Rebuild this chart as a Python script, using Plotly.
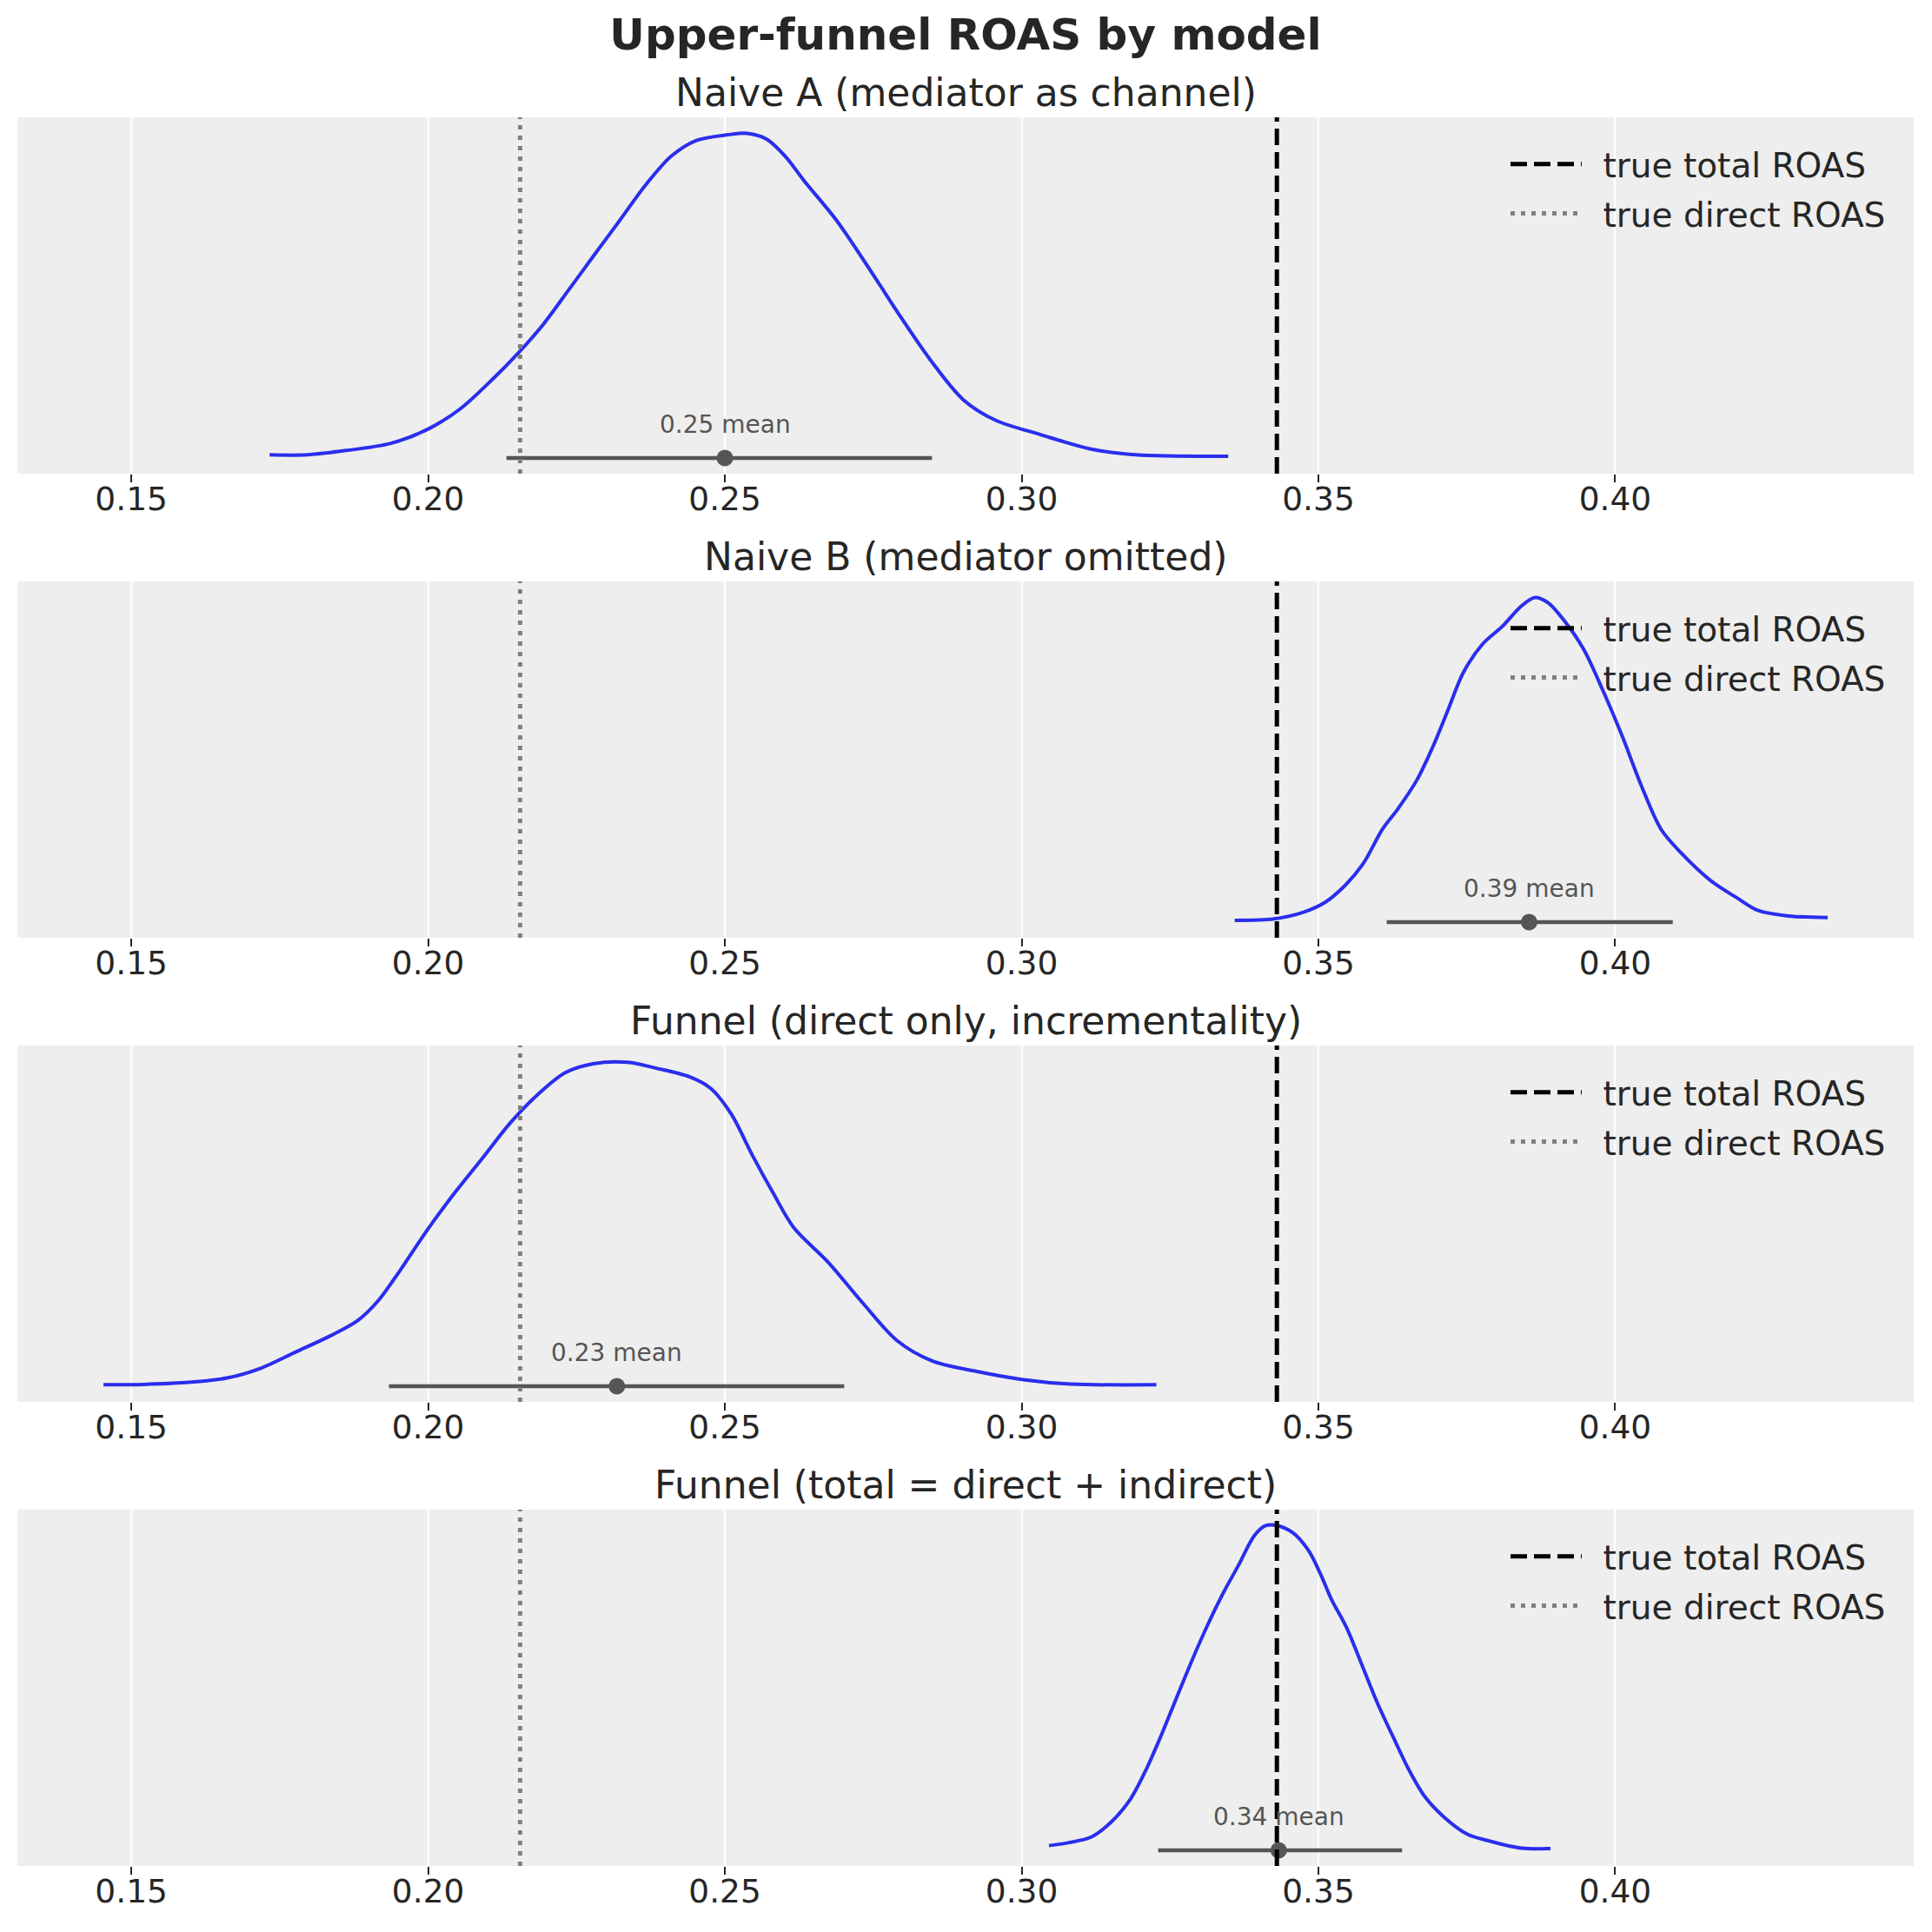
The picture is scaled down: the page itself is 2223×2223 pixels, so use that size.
import plotly.graph_objects as go

# ---------------- data ----------------
panel_titles = [
    "Naive A (mediator as channel)",
    "Naive B (mediator omitted)",
    "Funnel (direct only, incrementality)",
    "Funnel (total = direct + indirect)",
]
true_total_roas = 0.343
true_direct_roas = 0.2155

means = [0.2500, 0.3855, 0.2318, 0.3433]
hdi_low = [0.2132, 0.3615, 0.1934, 0.3230]
hdi_high = [0.2849, 0.4097, 0.2701, 0.3641]

kde_x_naive_a = [0.1733, 0.1797, 0.1862, 0.1937, 0.2001, 0.2055, 0.2108, 0.2151, 0.2194, 0.2237,
                 0.2280, 0.2323, 0.2366, 0.2409, 0.2452, 0.2505, 0.2538, 0.2570, 0.2602, 0.2634,
                 0.2688, 0.2741, 0.2795, 0.2849, 0.2902, 0.2956, 0.3031, 0.3117, 0.3192, 0.3348]
kde_y_naive_a = [0.053, 0.053, 0.065, 0.085, 0.126, 0.183, 0.264, 0.337, 0.419, 0.516,
                 0.614, 0.711, 0.809, 0.890, 0.935, 0.951, 0.955, 0.939, 0.890, 0.821,
                 0.711, 0.581, 0.443, 0.313, 0.207, 0.150, 0.110, 0.069, 0.053, 0.049]

kde_x_naive_b = [0.3359, 0.3425, 0.3477, 0.3510, 0.3542, 0.3575, 0.3608, 0.3634, 0.3666, 0.3692,
                 0.3718, 0.3744, 0.3777, 0.3810, 0.3842, 0.3865, 0.3888, 0.3914, 0.3947, 0.3979,
                 0.4012, 0.4044, 0.4077, 0.4110, 0.4162, 0.4207, 0.4240, 0.4292, 0.4330, 0.4358]
kde_y_naive_b = [0.049, 0.053, 0.073, 0.098, 0.142, 0.207, 0.305, 0.362, 0.443, 0.533,
                 0.638, 0.744, 0.825, 0.874, 0.931, 0.955, 0.939, 0.890, 0.809, 0.695,
                 0.565, 0.427, 0.305, 0.240, 0.159, 0.110, 0.077, 0.061, 0.058, 0.057]

kde_x_funnel_direct = [0.1453, 0.1521, 0.1591, 0.1661, 0.1719, 0.1777, 0.1835, 0.1882, 0.1917, 0.1952,
                       0.1998, 0.2045, 0.2092, 0.2138, 0.2185, 0.2231, 0.2278, 0.2336, 0.2383, 0.2441,
                       0.2476, 0.2511, 0.2546, 0.2581, 0.2616, 0.2674, 0.2732, 0.2790, 0.2849, 0.2919,
                       0.3000, 0.3082, 0.3227]
kde_y_funnel_direct = [0.048, 0.049, 0.054, 0.067, 0.095, 0.140, 0.185, 0.229, 0.286, 0.367,
                       0.481, 0.587, 0.685, 0.782, 0.863, 0.924, 0.949, 0.953, 0.937, 0.912,
                       0.880, 0.807, 0.693, 0.587, 0.489, 0.392, 0.278, 0.172, 0.115, 0.087,
                       0.063, 0.050, 0.048]

kde_x_funnel_total = [0.3046, 0.3078, 0.3117, 0.3150, 0.3183, 0.3209, 0.3235, 0.3261, 0.3287, 0.3313,
                      0.3339, 0.3366, 0.3392, 0.3411, 0.3431, 0.3457, 0.3483, 0.3503, 0.3522, 0.3548,
                      0.3574, 0.3600, 0.3627, 0.3653, 0.3679, 0.3711, 0.3751, 0.3790, 0.3842, 0.3891]
kde_y_funnel_total = [0.057, 0.065, 0.081, 0.122, 0.187, 0.268, 0.366, 0.472, 0.577, 0.675,
                      0.764, 0.846, 0.927, 0.955, 0.955, 0.935, 0.886, 0.821, 0.748, 0.667,
                      0.561, 0.455, 0.358, 0.268, 0.195, 0.138, 0.089, 0.069, 0.050, 0.049]

kde_x = [kde_x_naive_a, kde_x_naive_b, kde_x_funnel_direct, kde_x_funnel_total]
kde_y = [kde_y_naive_a, kde_y_naive_b, kde_y_funnel_direct, kde_y_funnel_total]

tick_values = [0.15, 0.20, 0.25, 0.30, 0.35, 0.40]
tick_labels = ["0.15", "0.20", "0.25", "0.30", "0.35", "0.40"]
x_range = [0.1308, 0.4503]

# ---------------- layout constants ----------------
PAGE = 2223
OFF = 8                      # default page body margin
W = PAGE - 2 * OFF           # figure size so the page does not overflow


def px_x(p):
    return (p - OFF) / W


def px_y(p):
    return 1 - (p - OFF) / W


PLOT_LEFT, PLOT_RIGHT = 20, 2202
PANEL_TOPS = [135, 669, 1203, 1737]
PANEL_H = 410
HDI_Y = 0.044
LABEL_Y = 0.138
FONT = "DejaVu Sans"
TXT = "#262626"
GREY = "#555555"
KDE_COLOR = "#2a2eec"
GAP = "\u2002"

fig = go.Figure()
layout = dict(
    width=W, height=W,
    margin=dict(l=0, r=0, t=0, b=0),
    paper_bgcolor="white",
    plot_bgcolor="#eeeeee",
    font=dict(family=FONT, color=TXT),
    title=dict(text="Upper-funnel ROAS by model", x=px_x((PLOT_LEFT + PLOT_RIGHT) / 2),
               xanchor="center", y=px_y(39), yanchor="middle", yref="container",
               font=dict(family=FONT, size=50, color=TXT, weight="bold")),
    annotations=[],
)

for i in range(4):
    n = "" if i == 0 else str(i + 1)
    xa, ya = "x" + n, "y" + n
    leg = "legend" + n
    top = PANEL_TOPS[i]

    layout["xaxis" + n] = dict(
        domain=[px_x(PLOT_LEFT), px_x(PLOT_RIGHT)], anchor=ya, range=x_range,
        tickvals=tick_values, ticktext=tick_labels, showgrid=True, gridcolor="white",
        gridwidth=2, zeroline=False, showline=False, ticks="outside", ticklen=9,
        tickwidth=2, tickcolor=TXT, ticklabelstandoff=-13,
        tickfont=dict(family=FONT, size=37.5, color=TXT),
    )
    layout["yaxis" + n] = dict(
        domain=[px_y(top + PANEL_H), px_y(top)], anchor=xa, range=[0, 1], showgrid=False,
        zeroline=False, showticklabels=False, ticks="", showline=False,
    )
    layout[leg] = dict(
        x=px_x(1733), xanchor="left", y=px_y(top + 22), yanchor="top",
        bgcolor="rgba(0,0,0,0)", borderwidth=0,
        font=dict(family=FONT, size=39, color=TXT),
        traceorder="grouped", tracegroupgap=3, itemwidth=82,
    )

    fig.add_trace(go.Scatter(x=kde_x[i], y=kde_y[i], mode="lines",
                             line=dict(color=KDE_COLOR, width=4, shape="spline", smoothing=0.9),
                             xaxis=xa, yaxis=ya, showlegend=False, hoverinfo="skip"))
    fig.add_trace(go.Scatter(x=[hdi_low[i], hdi_high[i]], y=[HDI_Y, HDI_Y], mode="lines",
                             line=dict(color=GREY, width=4.5), xaxis=xa, yaxis=ya,
                             showlegend=False, hoverinfo="skip"))
    fig.add_trace(go.Scatter(x=[means[i]], y=[HDI_Y], mode="markers",
                             marker=dict(color=GREY, size=19), xaxis=xa, yaxis=ya,
                             showlegend=False, hoverinfo="skip"))
    fig.add_trace(go.Scatter(x=[true_total_roas, true_total_roas], y=[0, 1], mode="lines",
                             line=dict(color="black", width=5, dash="19px,8px"),
                             name=GAP + "true total ROAS", legend=leg, legendgroup="total" + n,
                             xaxis=xa, yaxis=ya))
    fig.add_trace(go.Scatter(x=[true_direct_roas, true_direct_roas], y=[0, 1], mode="lines",
                             line=dict(color="grey", width=5, dash="5px,7px"),
                             name=GAP + "true direct ROAS", legend=leg, legendgroup="direct" + n,
                             xaxis=xa, yaxis=ya))

    layout["annotations"].append(dict(
        text=f"{means[i]:.2f} mean", x=means[i], y=LABEL_Y, xref=xa, yref=ya,
        showarrow=False, xanchor="center", yanchor="middle",
        font=dict(family=FONT, size=28, color=GREY)))
    layout["annotations"].append(dict(
        text=panel_titles[i], x=px_x((PLOT_LEFT + PLOT_RIGHT) / 2), y=px_y(top - 29),
        xref="paper", yref="paper", showarrow=False, xanchor="center", yanchor="middle",
        font=dict(family=FONT, size=44, color=TXT)))

fig.update_layout(**layout)
fig.write_html("out.html")
